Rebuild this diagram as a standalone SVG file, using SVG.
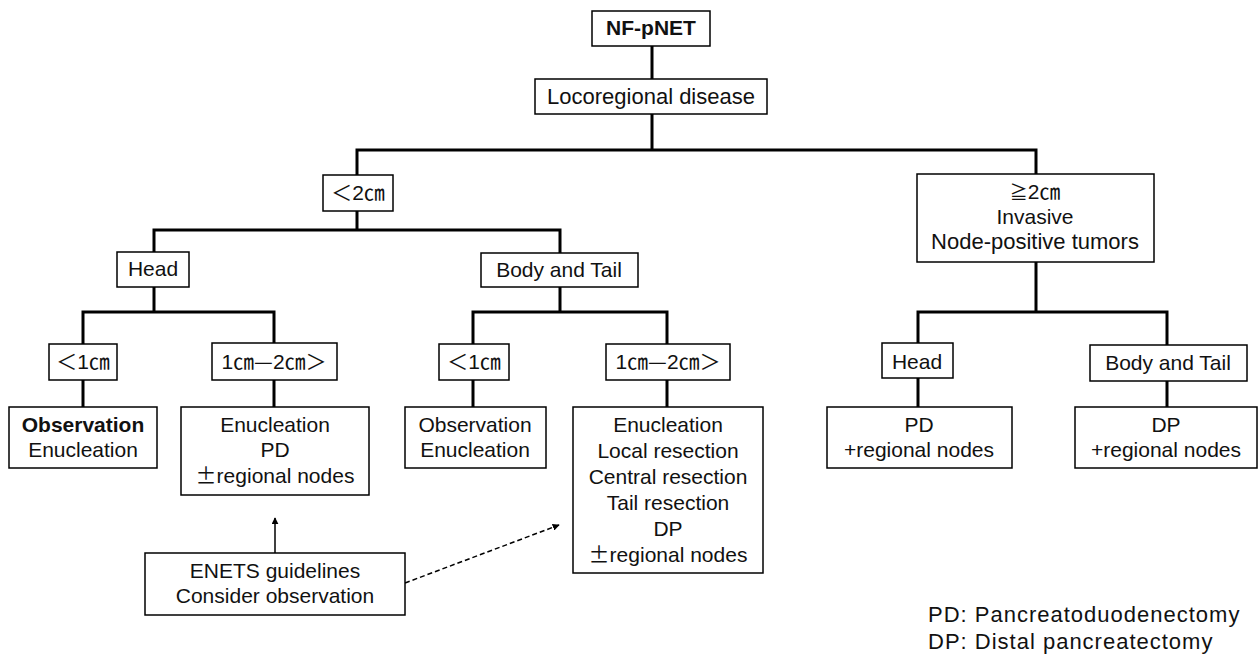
<svg xmlns="http://www.w3.org/2000/svg" width="1260" height="659" viewBox="0 0 1260 659">
<style>
.box{fill:#fff;stroke:#000;stroke-width:1.5}
.t{font-family:"Liberation Sans","Noto Sans CJK JP",sans-serif;font-size:21px;fill:#111;text-anchor:middle}
.b{font-weight:bold}
.cjk{font-family:"Noto Sans CJK JP",sans-serif}
.tree{stroke:#000;stroke-width:3;fill:none;stroke-linecap:square}
.arr{stroke:#000;stroke-width:1.5;fill:none}
.dash{stroke-dasharray:5 3}
.note{font-family:"Liberation Sans","Noto Sans CJK JP",sans-serif;font-size:22px;fill:#111;letter-spacing:1px}
</style>
<defs>
<marker id="ah" viewBox="0 0 10 10" refX="9" refY="5" markerWidth="7" markerHeight="7" orient="auto" markerUnits="userSpaceOnUse">
<path d="M0,0 L10,5 L0,10 z" fill="#000"/>
</marker>
</defs>
<rect width="1260" height="659" fill="#fff"/>
<g id="connectors">
<path class="tree" d="M652,46V79 M652,114V150 M357,150H1036 M357,150V175 M1036,150V174"/>
<path class="tree" d="M357,211V230 M154,230H560 M154,230V252 M560,230V253"/>
<path class="tree" d="M154,287V312 M83,312H274 M83,312V344 M274,312V343 M83,380V407 M274,380V407"/>
<path class="tree" d="M560,287V312 M473,312H667 M473,312V344 M667,312V344 M473,380V407 M667,380V407"/>
<path class="tree" d="M1036,262V312 M918,312H1167 M918,312V343 M1167,312V345 M918,378V407 M1167,381V407"/>
<path class="arr" d="M275,553V518" marker-end="url(#ah)"/>
<path class="arr dash" d="M405,583L559,525" marker-end="url(#ah)"/>
</g>
<g id="n-root"><rect class="box" x="592" y="11" width="118" height="35"/><text class="t b" x="651" y="35">NF-pNET</text></g>
<g id="n-loco"><rect class="box" x="535" y="79" width="232" height="35"/><text class="t" x="651" y="104" style="font-size:22px">Locoregional disease</text></g>
<g id="n-lt2"><rect class="box" x="323" y="175" width="70" height="36"/><text class="t" x="358" y="200"><tspan class="cjk">＜</tspan>2㎝</text></g>
<g id="n-ge2"><rect class="box" x="917" y="174" width="237" height="88"/><text class="t" x="1035" y="199"><tspan class="cjk" style="font-size:18px">≧</tspan>2㎝</text><text class="t" x="1035" y="224">Invasive</text><text class="t" x="1035" y="249" style="font-size:22px">Node-positive tumors</text></g>
<g id="n-headL"><rect class="box" x="117" y="252" width="72" height="35"/><text class="t" x="153" y="276">Head</text></g>
<g id="n-btL"><rect class="box" x="481" y="253" width="157" height="34"/><text class="t" x="559" y="277">Body and Tail</text></g>
<g id="n-lt1a"><rect class="box" x="49" y="344" width="68" height="36"/><text class="t" x="83" y="369"><tspan class="cjk">＜</tspan>1㎝</text></g>
<g id="n-12a"><rect class="box" x="212" y="343" width="125" height="37"/><text class="t" x="274" y="369">1㎝<tspan class="cjk">—</tspan>2㎝<tspan class="cjk">＞</tspan></text></g>
<g id="n-lt1b"><rect class="box" x="439" y="344" width="70" height="36"/><text class="t" x="474" y="369"><tspan class="cjk">＜</tspan>1㎝</text></g>
<g id="n-12b"><rect class="box" x="606" y="344" width="124" height="36"/><text class="t" x="668" y="369">1㎝<tspan class="cjk">—</tspan>2㎝<tspan class="cjk">＞</tspan></text></g>
<g id="n-obsA"><rect class="box" x="9" y="407" width="148" height="61"/><text class="t b" x="83" y="432">Observation</text><text class="t" x="83" y="457">Enucleation</text></g>
<g id="n-enucPD"><rect class="box" x="181" y="407" width="188" height="88"/><text class="t" x="275" y="432">Enucleation</text><text class="t" x="275" y="457">PD</text><text class="t" x="275" y="483"><tspan class="cjk">±</tspan>regional nodes</text></g>
<g id="n-obsB"><rect class="box" x="405" y="407" width="141" height="61"/><text class="t" x="475" y="432">Observation</text><text class="t" x="475" y="457">Enucleation</text></g>
<g id="n-big"><rect class="box" x="573" y="407" width="190" height="166"/><text class="t" x="668" y="432">Enucleation</text><text class="t" x="668" y="458">Local resection</text><text class="t" x="668" y="484">Central resection</text><text class="t" x="668" y="510">Tail resection</text><text class="t" x="668" y="536">DP</text><text class="t" x="668" y="562"><tspan class="cjk">±</tspan>regional nodes</text></g>
<g id="n-headR"><rect class="box" x="882" y="343" width="71" height="35"/><text class="t" x="917" y="369">Head</text></g>
<g id="n-btR"><rect class="box" x="1090" y="345" width="157" height="36"/><text class="t" x="1168" y="370">Body and Tail</text></g>
<g id="n-pdR"><rect class="box" x="827" y="407" width="185" height="61"/><text class="t" x="919" y="432">PD</text><text class="t" x="919" y="457">+regional nodes</text></g>
<g id="n-dpR"><rect class="box" x="1075" y="407" width="182" height="61"/><text class="t" x="1166" y="432">DP</text><text class="t" x="1166" y="457">+regional nodes</text></g>
<g id="n-enets"><rect class="box" x="145" y="553" width="260" height="62"/><text class="t" x="275" y="578">ENETS guidelines</text><text class="t" x="275" y="603">Consider observation</text></g>
<g id="legend"><text class="note" x="928" y="622">PD: Pancreatoduodenectomy</text><text class="note" x="928" y="649">DP: Distal pancreatectomy</text></g>
</svg>
